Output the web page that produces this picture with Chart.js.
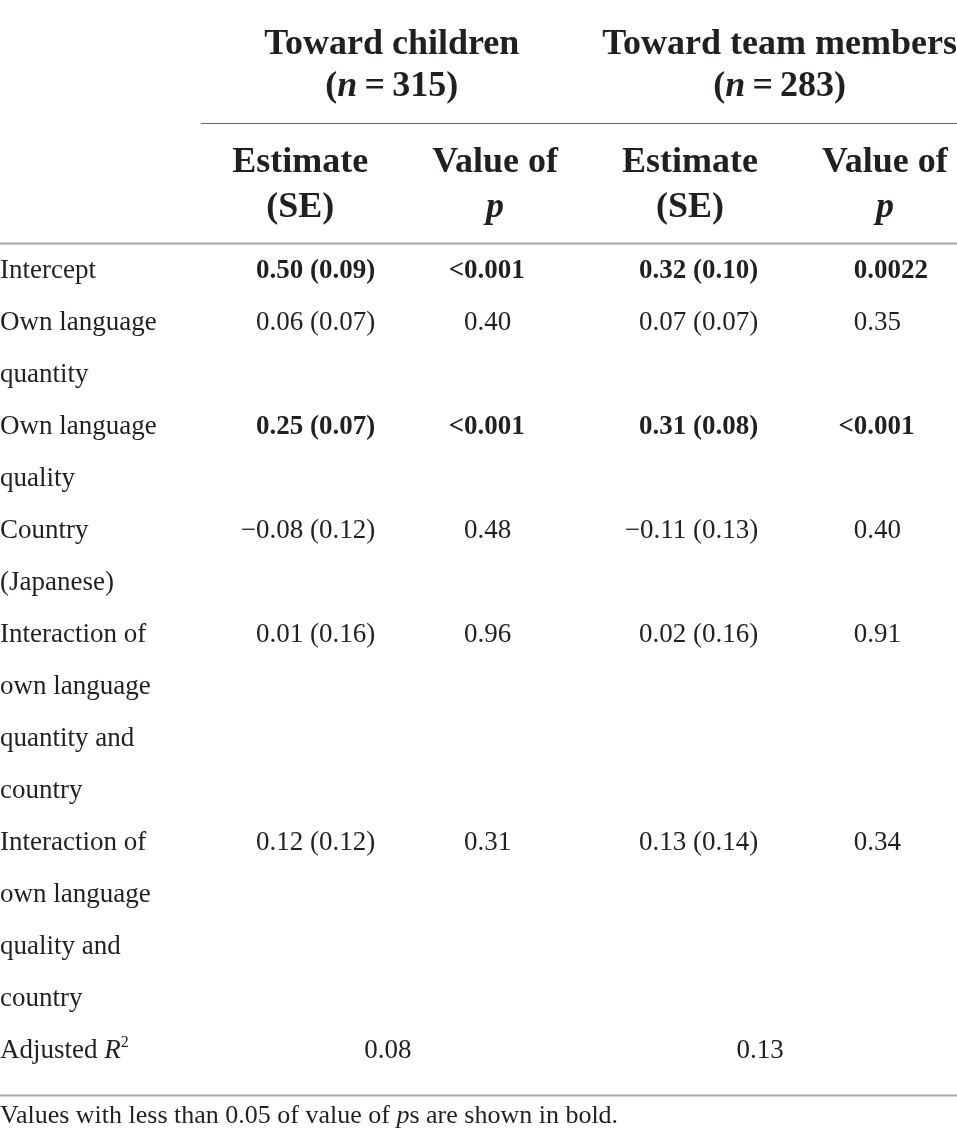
<!DOCTYPE html>
<html>
<head>
<meta charset="utf-8">
<script src="https://cdn.jsdelivr.net/npm/chart.js@4.4.0/dist/chart.umd.min.js"></script>
<style>
  html, body { margin: 0; padding: 0; background: #fff; }
</style>
</head>
<body>
<canvas id="table" width="957" height="1147"></canvas>
<script>
// table content
const rowLabels = [
  ["Intercept"],
  ["Own language", "quantity"],
  ["Own language", "quality"],
  ["Country", "(Japanese)"],
  ["Interaction of", "own language", "quantity and", "country"],
  ["Interaction of", "own language", "quality and", "country"]
];
const childEstimates = ["0.50 (0.09)", "0.06 (0.07)", "0.25 (0.07)", "\u22120.08 (0.12)", "0.01 (0.16)", "0.12 (0.12)"];
const childP = ["<0.001", "0.40", "<0.001", "0.48", "0.96", "0.31"];
const teamEstimates = ["0.32 (0.10)", "0.07 (0.07)", "0.31 (0.08)", "\u22120.11 (0.13)", "0.02 (0.16)", "0.13 (0.14)"];
const teamP = ["0.0022", "0.35", "<0.001", "0.40", "0.91", "0.34"];
const groups = ["Toward children", "Toward team members"];
const groupN = ["315", "283"];
const adjustedR2 = ["0.08", "0.13"];
const footnote = "Values with less than 0.05 of value of ps are shown in bold.";

// layout, in column units (x) and text-line units (y)
const X_MIN = -0.54, X_MAX = 4.37;
const Y_MIN = -5.34, Y_MAX = 16.72;
const EST_COL = [1, 3], P_COL = [2, 4];
const EST_X = [1.385, 3.35], P_X = [1.91, 3.91];
const GROUP_X = [1.47, 3.46], R2_X = [1.45, 3.36];
const HEAD_Y = [-4.30, -3.49], SUB_Y = [-2.03, -1.16];
const RULES = [
  { y: -2.97, from: 0.49, color: '#6b6b6b', width: 1.2 },
  { y: -0.66, from: X_MIN, color: '#a8a8a8', width: 2.2 },
  { y: 15.72, from: X_MIN, color: '#a8a8a8', width: 2.2 }
];
const FOOT_Y = 16.26;

const INK = '#231f20';
const SERIF = '"Liberation Serif", "DejaVu Serif", serif';
const font = (style, size) => `${style} ${size}px ${SERIF}`;
const BODY = font('normal', 27), BODY_B = font('bold', 27), BODY_I = font('italic', 27);
const HEAD = font('bold', 36), HEAD_I = font('italic bold', 36);
const NOTE = 26;

const significant = p => p.startsWith('<') || parseFloat(p) < 0.05;

// first text line of each row
const rowStart = [];
let line = 0;
rowLabels.forEach(r => { rowStart.push(line); line += r.length; });
const r2Line = line;

function drawRuns(ctx, runs, x, y, align) {
  let total = 0;
  runs.forEach(r => { ctx.font = r.font; r.w = ctx.measureText(r.t).width; total += r.w; });
  let cx = x;
  if (align === 'center') cx = x - total / 2;
  else if (align === 'right') cx = x - total;
  else if (align === 'decimal') {
    const txt = runs.map(r => r.t).join('');
    ctx.font = runs[0].font;
    cx = x - ctx.measureText(txt.slice(0, txt.indexOf('.'))).width;
  }
  runs.forEach(r => {
    ctx.font = r.font;
    ctx.fillText(r.t, cx, y + (r.dy || 0));
    cx += r.w;
  });
}

// one scatter dataset per table column; each point carries its cell text
const labelCells = [], labelPts = [];
rowLabels.forEach((r, i) => r.forEach((t, k) => {
  labelPts.push({ x: X_MIN, y: rowStart[i] + k });
  labelCells.push([{ t, font: BODY }]);
}));
labelPts.push({ x: X_MIN, y: r2Line });
labelCells.push([
  { t: 'Adjusted ', font: BODY },
  { t: 'R', font: BODY_I },
  { t: '2', font: font('normal', 16), dy: -11 }
]);

function valueSet(values, pvals, xPos, align) {
  return {
    data: values.map((v, i) => ({ x: xPos, y: rowStart[i] })),
    cells: values.map((v, i) => [{ t: v, font: significant(pvals[i]) ? BODY_B : BODY }]),
    align, pointRadius: 0
  };
}

const datasets = [
  { data: labelPts, cells: labelCells, align: 'left', pointRadius: 0 },
  valueSet(childEstimates, childP, EST_X[0], 'right'),
  valueSet(childP, childP, P_X[0], 'decimal'),
  valueSet(teamEstimates, teamP, EST_X[1], 'right'),
  valueSet(teamP, teamP, P_X[1], 'decimal'),
  {
    data: adjustedR2.map((v, i) => ({ x: R2_X[i], y: r2Line })),
    cells: adjustedR2.map(v => [{ t: v, font: BODY }]),
    align: 'center', pointRadius: 0
  }
];

const tablePlugin = {
  id: 'tableText',
  afterDraw(chart) {
    const { ctx, scales: { x, y } } = chart;
    ctx.save();
    ctx.textAlign = 'left';
    ctx.textBaseline = 'alphabetic';

    // horizontal rules
    RULES.forEach(r => {
      const py = Math.round(y.getPixelForValue(r.y)) + 0.5;
      ctx.strokeStyle = r.color;
      ctx.lineWidth = r.width;
      ctx.beginPath();
      ctx.moveTo(x.getPixelForValue(r.from), py);
      ctx.lineTo(x.getPixelForValue(X_MAX), py);
      ctx.stroke();
    });

    ctx.fillStyle = INK;

    // group headers
    groups.forEach((g, i) => {
      const px = x.getPixelForValue(GROUP_X[i]);
      drawRuns(ctx, [{ t: g, font: HEAD }], px, y.getPixelForValue(HEAD_Y[0]), 'center');
      drawRuns(ctx, [
        { t: '(', font: HEAD },
        { t: 'n', font: HEAD_I },
        { t: '\u2009=\u2009' + groupN[i] + ')', font: HEAD }
      ], px, y.getPixelForValue(HEAD_Y[1]), 'center');
    });

    // column headers
    [...EST_COL, ...P_COL].forEach(c => {
      const px = x.getPixelForValue(c);
      const isP = P_COL.includes(c);
      drawRuns(ctx, [{ t: isP ? 'Value of' : 'Estimate', font: HEAD }], px, y.getPixelForValue(SUB_Y[0]), 'center');
      drawRuns(ctx, [{ t: isP ? 'p' : '(SE)', font: isP ? HEAD_I : HEAD }], px, y.getPixelForValue(SUB_Y[1]), 'center');
    });

    // body cells, placed at each point the scatter scales produced
    chart.data.datasets.forEach((ds, di) => {
      chart.getDatasetMeta(di).data.forEach((pt, i) => {
        drawRuns(ctx, ds.cells[i], pt.x, pt.y, ds.align);
      });
    });

    // footnote
    const parts = footnote.split(' ps ');
    drawRuns(ctx, [
      { t: parts[0] + ' ', font: font('normal', NOTE) },
      { t: 'p', font: font('italic', NOTE) },
      { t: 's ' + parts[1], font: font('normal', NOTE) }
    ], x.getPixelForValue(X_MIN), y.getPixelForValue(FOOT_Y), 'left');

    ctx.restore();
  }
};

new Chart(document.getElementById('table'), {
  type: 'scatter',
  data: { datasets },
  options: {
    responsive: false,
    animation: false,
    layout: { padding: 0 },
    plugins: { legend: { display: false }, tooltip: { enabled: false } },
    scales: {
      x: { type: 'linear', display: false, min: X_MIN, max: X_MAX },
      y: { type: 'linear', display: false, reverse: true, min: Y_MIN, max: Y_MAX }
    }
  },
  plugins: [tablePlugin]
});
</script>
</body>
</html>
